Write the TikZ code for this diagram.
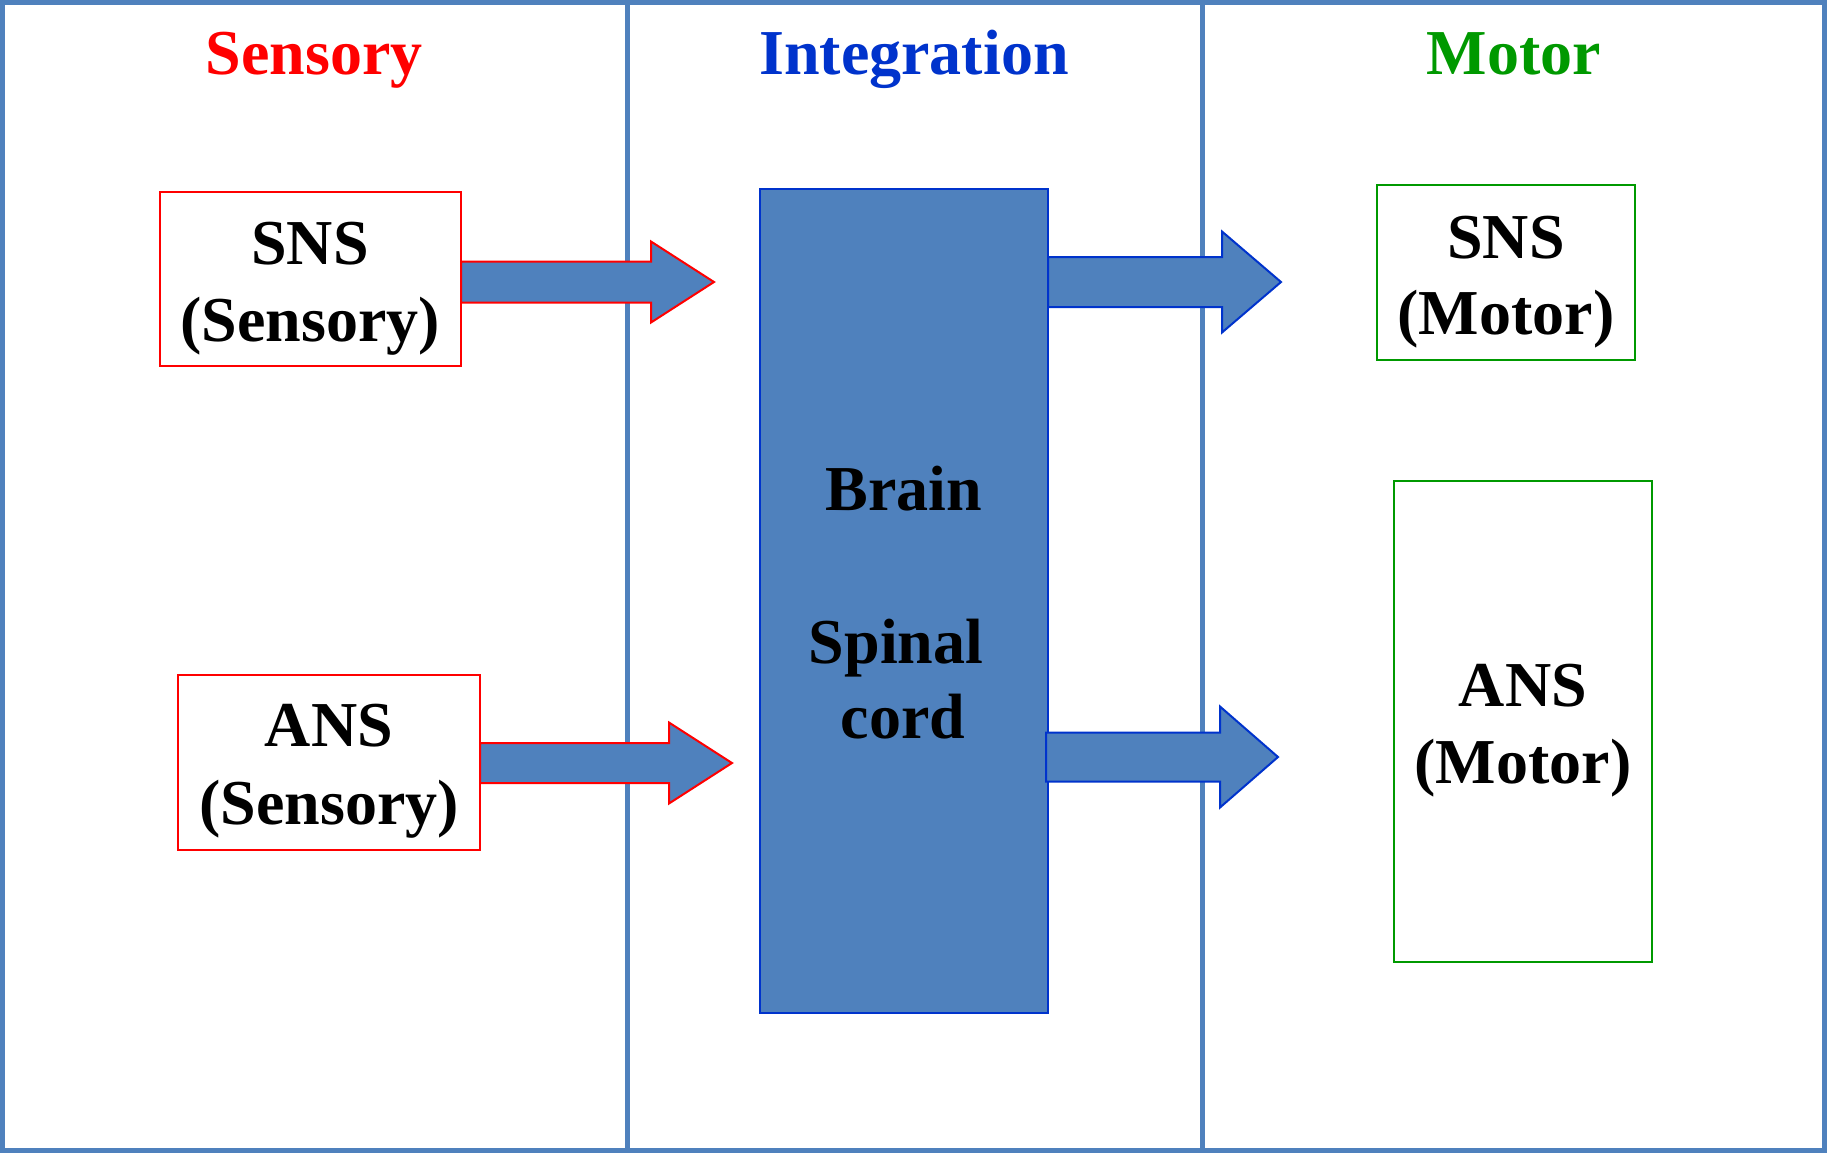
\documentclass[tikz,border=0pt]{standalone}
\usepackage{fontspec}
\setmainfont{Liberation Serif}
\usetikzlibrary{fit}
\definecolor{frameblue}{HTML}{4F81BD}
\definecolor{fillblue}{HTML}{4F81BD}
\definecolor{edgeblue}{HTML}{0033CC}
\definecolor{myred}{HTML}{FF0000}
\definecolor{mygreen}{HTML}{009900}
\tikzset{
  redbox/.style={draw=myred, line width=1pt, fill=white, inner sep=0pt},
  greenbox/.style={draw=mygreen, line width=1pt, fill=white, inner sep=0pt},
  brainbox/.style={draw=edgeblue, line width=1pt, fill=fillblue, inner sep=0pt},
  txt/.style={anchor=base, inner sep=0pt, font=\fontsize{32}{38}\selectfont\bfseries},
  redarrow/.style={draw=myred, fill=fillblue, line width=1pt, line join=miter},
  bluearrow/.style={draw=edgeblue, fill=fillblue, line width=1pt, line join=miter},
  divider/.style={draw=frameblue, line width=2.5pt}
}
% #1 style, #2 start x, #3 head x, #4 tip x, #5 centre y, #6 shaft half, #7 head half
\newcommand\blockarrow[7]{%
  \draw[#1] (#2,#5-#6) -- (#3,#5-#6) -- (#3,#5-#7) -- (#4,#5) -- (#3,#5+#7) -- (#3,#5+#6) -- (#2,#5+#6) -- cycle;}
\begin{document}
\begin{tikzpicture}[x=0.5pt,y=-0.5pt]
\useasboundingbox (0,0) rectangle (1827,1153);
\fill[white] (0,0) rectangle (1827,1153);
% frame and dividers
\coordinate (d1t) at (627,0); \coordinate (d1b) at (627,1153);
\coordinate (d2t) at (1202,0); \coordinate (d2b) at (1202,1153);
\draw[divider] (d1t) -- (d1b);
\draw[divider] (d2t) -- (d2b);
\draw[divider] (2.5,2.5) rectangle (1824.5,1150.5);
% titles
\node[txt, text=myred] (tS) at (314,74) {Sensory};
\node[txt, text=edgeblue] (tI) at (914,74) {Integration};
\node[txt, text=mygreen] (tM) at (1514,74) {Motor};
% boxes
\node[redbox, fit={(160,192) (461,366)}] (snsS) {};
\node[redbox, fit={(178,675) (480,850)}] (ansS) {};
\node[brainbox, fit={(760,189) (1048,1013)}] (brain) {};
\node[greenbox, fit={(1377,185) (1635,360)}] (snsM) {};
\node[greenbox, fit={(1394,481) (1652,962)}] (ansM) {};
% arrows
\blockarrow{redarrow}{461}{651}{714}{282}{20.5}{40.5}
\blockarrow{redarrow}{480}{669}{732}{763}{20}{40.5}
\blockarrow{bluearrow}{1048}{1222}{1281}{282}{25}{50.5}
\blockarrow{bluearrow}{1046}{1220}{1278}{757}{24.5}{50.5}
% texts
\node[txt] (snsS1) at (310,264) {SNS};
\node[txt] (snsS2) at (310,341) {(Sensory)};
\node[txt] (ansS1) at (329,746) {ANS};
\node[txt] (ansS2) at (329,824) {(Sensory)};
\node[txt] (br) at (904,510) {Brain};
\node[txt] (sp1) at (896,663) {Spinal};
\node[txt] (sp2) at (903,738) {cord};
\node[txt] (snsM1) at (1506,258) {SNS};
\node[txt] (snsM2) at (1506,334) {(Motor)};
\node[txt] (ansM1) at (1523,706) {ANS};
\node[txt] (ansM2) at (1523,783) {(Motor)};
\end{tikzpicture}
\end{document}
